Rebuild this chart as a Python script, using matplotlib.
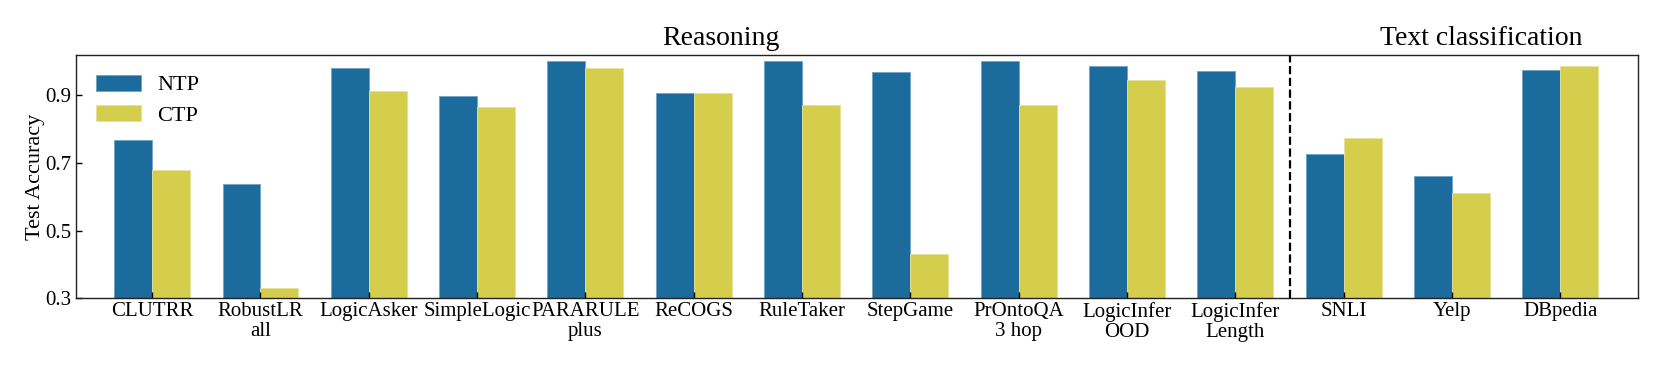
import matplotlib
matplotlib.use("Agg")
import matplotlib.pyplot as plt
import matplotlib.transforms as mtransforms
import numpy as np

categories = ["CLUTRR", "RobustLR\nall", "LogicAsker", "SimpleLogic", "PARARULE\nplus",
              "ReCOGS", "RuleTaker", "StepGame", "PrOntoQA\n3 hop", "LogicInfer\nOOD",
              "LogicInfer\nLength", "SNLI", "Yelp", "DBpedia"]
ntp = [0.769, 0.638, 0.982, 0.897, 1.000, 0.906, 1.000, 0.969, 1.000, 0.988, 0.971, 0.726, 0.660, 0.976]
ctp = [0.680, 0.330, 0.914, 0.864, 0.982, 0.906, 0.870, 0.430, 0.872, 0.944, 0.925, 0.774, 0.611, 0.987]
series_names = ["NTP", "CTP"]
group_titles = ["Reasoning", "Text classification"]
yticks = [0.3, 0.5, 0.7, 0.9]

plt.rcParams['font.family'] = ['Liberation Serif', 'DejaVu Serif']

fig = plt.figure(figsize=(16.61, 3.69), dpi=100)
ax = fig.add_axes([76.3/1661, 1 - 298.3/369, (1638.3 - 76.3)/1661, (298.3 - 54.7)/369])

x = np.arange(len(categories))
w = 0.35
blue = "#1b6c9d"
yellow = "#d5ce4c"
ax.bar(x - w/2, ntp, w, bottom=0, color=blue, edgecolor="#6fa3c6", linewidth=0.6, label=series_names[0])
ax.bar(x + w/2, ctp, w, bottom=0, color=yellow, edgecolor="#e6e29a", linewidth=0.6, label=series_names[1])

ax.set_xlim(-0.70, 13.72)
ax.set_ylim(0.3, 1.02)
ax.set_yticks(yticks)
ax.set_yticklabels([f"{v:.1f}" for v in yticks])
ax.set_xticks(x)
ax.set_xticklabels(categories, linespacing=1.05)
ax.tick_params(axis='both', direction='in', labelsize=15, length=4, width=1)
ax.tick_params(axis='x', pad=3)
ax.set_ylabel("Test Accuracy", fontsize=16, labelpad=0.5)

for s in ax.spines.values():
    s.set_linewidth(1.0)
    s.set_color("#222222")

ax.axvline(10.5, color='black', linestyle='--', linewidth=1.6)

trans = mtransforms.blended_transform_factory(ax.transData, ax.transAxes)
ax.text(5.25, 1.04, group_titles[0], transform=trans, ha='center', va='baseline', fontsize=20)
ax.text(12.27, 1.04, group_titles[1], transform=trans, ha='center', va='baseline', fontsize=20)

ax.legend(loc='upper left', frameon=False, fontsize=16, handlelength=2.0,
          handleheight=0.72, labelspacing=0.45, handletextpad=0.75)

fig.savefig("out.png", dpi=100)
